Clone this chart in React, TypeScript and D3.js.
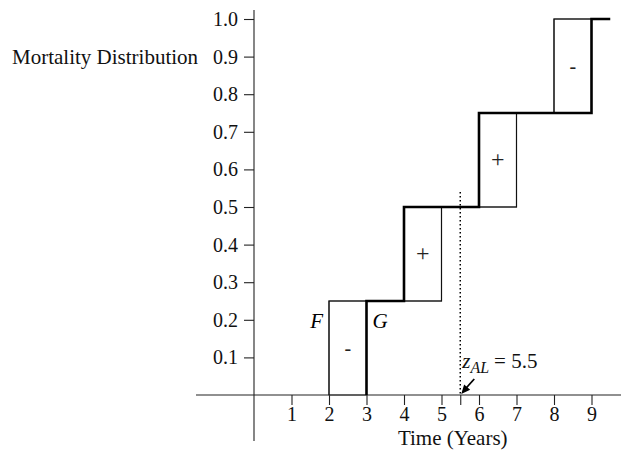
import React, { useRef, useEffect } from 'react';
import * as d3 from 'd3';

// step jumps of the two distributions (time in years)
const fJumps = [2, 5, 7, 8];
const gJumps = [3, 4, 6, 9];
const levels = [0, 0.25, 0.5, 0.75, 1.0];
const fEnd = 9;
const gEnd = 9.5;
const boxSigns = ['-', '+', '+', '-'];
const yTicks = [0.1, 0.2, 0.3, 0.4, 0.5, 0.6, 0.7, 0.8, 0.9, 1.0];
const xTicks = [1, 2, 3, 4, 5, 6, 7, 8, 9];
const zAL = 5.5;
const dottedTop = 0.54;

const FONT = '"Liberation Serif", "DejaVu Serif", serif';

const stepPoints = (jumps: number[], end: number): [number, number][] => {
  const pts: [number, number][] = [];
  jumps.forEach((j, i) => {
    pts.push([j, levels[i]]);
    pts.push([j, levels[i + 1]]);
  });
  pts.push([end, levels[levels.length - 1]]);
  return pts;
};

const plot = (svgRef: React.RefObject<SVGSVGElement>) => {
  const svg = d3.select(svgRef.current);
  svg.selectAll('*').remove();

  const x = d3.scaleLinear().domain([0, 1]).range([254, 291.5]);
  const y = d3.scaleLinear().domain([0, 1]).range([395, 19]);

  const g = svg.append('g').style('font-family', FONT);

  // axis lines
  g.append('line')
    .attr('x1', 196).attr('x2', 621)
    .attr('y1', y(0)).attr('y2', y(0))
    .attr('stroke', '#222').attr('stroke-width', 1.1);
  g.append('line')
    .attr('x1', x(0)).attr('x2', x(0))
    .attr('y1', 10).attr('y2', 441)
    .attr('stroke', '#222').attr('stroke-width', 1.1);

  // y axis
  const yAxis = d3.axisLeft(y)
    .tickValues(yTicks)
    .tickFormat(d3.format('.1f') as any)
    .tickSize(10)
    .tickPadding(6);
  const ya = g.append('g')
    .attr('transform', `translate(${x(0)},0)`)
    .call(yAxis);
  ya.select('.domain').remove();
  ya.selectAll('line').attr('stroke', '#222').attr('stroke-width', 1.1);
  ya.selectAll('text')
    .attr('font-family', FONT)
    .attr('font-size', 20)
    .attr('fill', '#111');

  // x axis
  const xAxis = d3.axisBottom(x)
    .tickValues([...xTicks, zAL])
    .tickFormat(((d: number) => (d === zAL ? '' : String(d))) as any)
    .tickSize(10)
    .tickPadding(2);
  const xa = g.append('g')
    .attr('transform', `translate(0,${y(0)})`)
    .call(xAxis);
  xa.select('.domain').remove();
  xa.selectAll('line').attr('stroke', '#222').attr('stroke-width', 1.1);
  xa.selectAll('text')
    .attr('font-family', FONT)
    .attr('font-size', 20)
    .attr('fill', '#111');

  // boxes between F and G
  fJumps.forEach((fj, i) => {
    const gj = gJumps[i];
    const x0 = Math.min(fj, gj);
    const x1 = Math.max(fj, gj);
    g.append('rect')
      .attr('x', x(x0)).attr('y', y(levels[i + 1]))
      .attr('width', x(x1) - x(x0))
      .attr('height', y(levels[i]) - y(levels[i + 1]))
      .attr('fill', 'none')
      .attr('stroke', '#333').attr('stroke-width', 1);
    g.append('text')
      .attr('x', x((x0 + x1) / 2))
      .attr('y', y((levels[i] + levels[i + 1]) / 2) + 7)
      .attr('text-anchor', 'middle')
      .attr('font-size', boxSigns[i] === '+' ? 24 : 20)
      .attr('fill', '#222')
      .text(boxSigns[i]);
  });

  const line = d3.line<[number, number]>()
    .x(d => x(d[0]))
    .y(d => y(d[1]));

  // F (thin) and G (thick)
  g.append('path')
    .datum(stepPoints(fJumps, fEnd))
    .attr('d', line)
    .attr('fill', 'none')
    .attr('stroke', '#111').attr('stroke-width', 1.2);
  g.append('path')
    .datum(stepPoints(gJumps, gEnd))
    .attr('d', line)
    .attr('fill', 'none')
    .attr('stroke', '#000').attr('stroke-width', 2.6);

  // labels F and G
  g.append('text')
    .attr('x', x(fJumps[0]) - 6).attr('y', y(0.2) + 8)
    .attr('text-anchor', 'end')
    .attr('font-size', 21).attr('font-style', 'italic')
    .text('F');
  g.append('text')
    .attr('x', x(gJumps[0]) + 6).attr('y', y(0.2) + 8)
    .attr('text-anchor', 'start')
    .attr('font-size', 21).attr('font-style', 'italic')
    .text('G');

  // dotted z_AL line
  g.append('line')
    .attr('x1', x(zAL)).attr('x2', x(zAL))
    .attr('y1', y(dottedTop)).attr('y2', y(0))
    .attr('stroke', '#000').attr('stroke-width', 1.5)
    .attr('stroke-dasharray', '1.5,2.5');

  // arrow
  const hx = x(zAL) + 1;
  const hy = y(0) - 1;
  g.append('line')
    .attr('x1', hx + 13).attr('y1', hy - 15)
    .attr('x2', hx + 4).attr('y2', hy - 5)
    .attr('stroke', '#000').attr('stroke-width', 1.8);
  const ang = Math.atan2(-15, 13);
  const L = 9, W = 4;
  const ux = Math.cos(ang), uy = Math.sin(ang);
  g.append('path')
    .attr('d', `M${hx},${hy} L${hx + ux * L - uy * W},${hy + uy * L + ux * W} L${hx + ux * L + uy * W},${hy + uy * L - ux * W} Z`)
    .attr('fill', '#000');

  const zt = g.append('text')
    .attr('x', x(zAL) + 2).attr('y', y(0) - 27)
    .attr('font-size', 21)
    .attr('fill', '#111');
  zt.append('tspan').attr('font-style', 'italic').text('z');
  zt.append('tspan').attr('font-style', 'italic').attr('font-size', 16).attr('dy', 5).text('AL');
  zt.append('tspan').attr('dy', -5).attr('dx', 5).text('= 5.5');

  // axis titles
  g.append('text')
    .attr('x', 12).attr('y', y(0.9) + 7)
    .attr('font-size', 21)
    .attr('fill', '#111')
    .text('Mortality Distribution');
  g.append('text')
    .attr('x', x(5.3)).attr('y', 445)
    .attr('text-anchor', 'middle')
    .attr('font-size', 21)
    .attr('fill', '#111')
    .text('Time (Years)');
};

export default function App() {
  const svgRef = useRef<SVGSVGElement>(null);

  useEffect(() => {
    plot(svgRef);
  }, []);

  return (
    <svg
      ref={svgRef}
      width={621}
      height={451}
      style={{ position: 'absolute', left: 0, top: 0, background: '#fff' }}
    />
  );
}
